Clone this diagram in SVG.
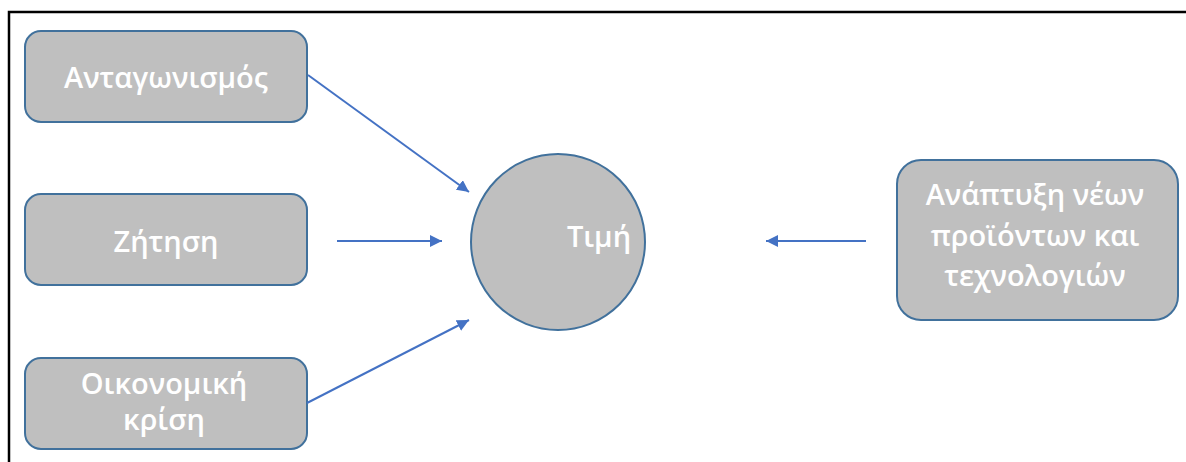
<svg xmlns="http://www.w3.org/2000/svg" width="1186" height="462" viewBox="0 0 1186 462">
  <style>
    .box { fill: #bfbfbf; stroke: #41719c; stroke-width: 2; }
    .lbl { fill: #ffffff; font-family: "Open Sans", "Noto Sans", "DejaVu Sans", sans-serif; font-weight: 600; font-size: 29px; text-anchor: middle; }
    .arrow { stroke: #4472c4; stroke-width: 2; fill: none; marker-end: url(#head); }
    .frame { stroke: #000000; stroke-width: 2.5; fill: none; }
  </style>
  <defs>
    <marker id="head" viewBox="0 0 10 10" refX="10" refY="5" markerWidth="6" markerHeight="6" markerUnits="strokeWidth" orient="auto">
      <path d="M0,0 L10,5 L0,10 z" fill="#4472c4"/>
    </marker>
  </defs>
  <rect width="1186" height="462" fill="#ffffff"/>

  <!-- outer frame: top and left edges only -->
  <path class="frame" d="M9,462 L9,12 L1186,12"/>

  <g id="competition">
    <rect class="box" x="25" y="31" width="282" height="91" rx="16"/>
    <text class="lbl" x="166" y="88">Ανταγωνισμός</text>
  </g>

  <g id="demand">
    <rect class="box" x="25" y="194" width="282" height="91" rx="16"/>
    <text class="lbl" x="166" y="252">Ζήτηση</text>
  </g>

  <g id="crisis">
    <rect class="box" x="25" y="358" width="282" height="91" rx="16"/>
    <text class="lbl" x="164" y="394">Οικονομική</text>
    <text class="lbl" x="164" y="430">κρίση</text>
  </g>

  <g id="price">
    <ellipse class="box" cx="558" cy="242" rx="87" ry="88"/>
    <text class="lbl" x="599" y="247">Τιμή</text>
  </g>

  <g id="innovation">
    <rect class="box" x="897" y="160" width="281" height="160" rx="24"/>
    <text class="lbl" x="1035" y="205">Ανάπτυξη νέων</text>
    <text class="lbl" x="1035" y="246">προϊόντων και</text>
    <text class="lbl" x="1035" y="286">τεχνολογιών</text>
  </g>

  <g id="connectors">
    <line class="arrow" x1="308" y1="75" x2="469" y2="192"/>
    <line class="arrow" x1="337" y1="241" x2="442" y2="241"/>
    <line class="arrow" x1="307" y1="403" x2="469" y2="320"/>
    <line class="arrow" x1="866" y1="241" x2="766" y2="241"/>
  </g>
</svg>
